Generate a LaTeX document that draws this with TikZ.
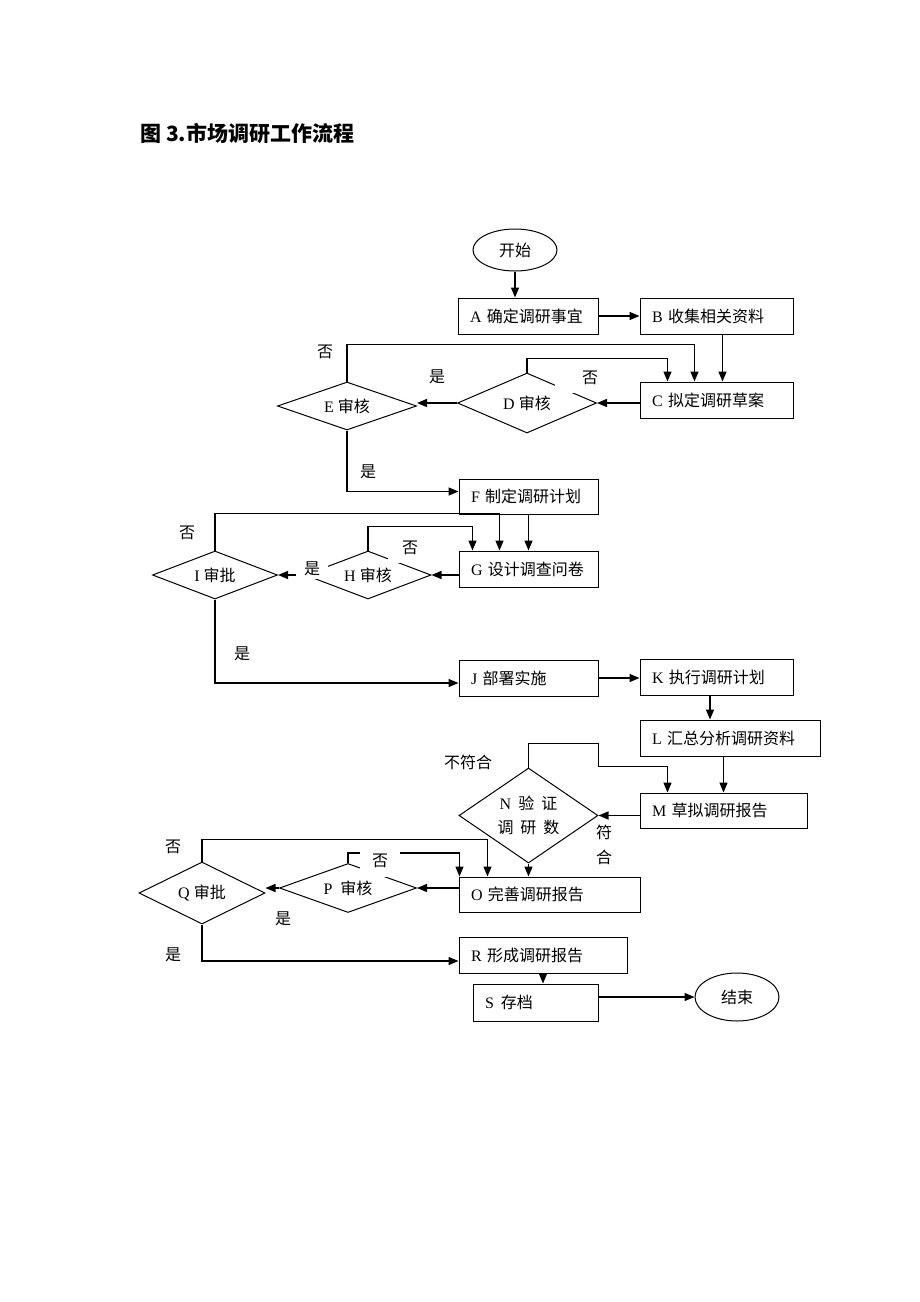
\documentclass[tikz,border=0pt]{standalone}
\usepackage{fontspec}
\setmainfont{Liberation Serif}
\newfontfamily\zhfont{Noto Sans CJK SC}
\newcommand{\zh}[1]{{\zhfont #1}}
\usetikzlibrary{shapes.geometric,arrows.meta,calc,positioning}

\begin{document}
\begin{tikzpicture}[
    x=1pt, y=-1pt,
    proc/.style ={
        rectangle,
        draw=black,
        line width=1pt,
        minimum height=36pt,
        inner xsep=12pt,
        inner ysep=0pt,
        align=left,
        text width=#1,
        font=\fontsize{16}{19}\selectfont
    },
    dec/.style ={
        diamond,
        draw=black,
        line width=1pt,
        aspect=2.5,
        inner sep=0pt,
        font=\fontsize{16}{19}\selectfont
    },
    term/.style ={
        ellipse,
        draw=black,
        line width=1pt,
        minimum width=84pt,
        minimum height=42pt,
        font=\fontsize{16}{19}\selectfont
    },
    lbl/.style ={
        inner sep=2pt,
        font=\fontsize{16}{19}\selectfont
    },
    arr/.style ={
        -{Triangle[length=10pt,width=8pt]},
        line width=1.4pt
    }
    ]

    \fill[white] (0,0) rectangle (920,1302);
    \useasboundingbox (0,0) rectangle (920,1302);

    \node[anchor=west, inner sep=0pt, font=\fontsize{21}{25}\selectfont\zhfont\bfseries] (title) at (140,133) {图 3.市场调研工作流程};

    \node[term] (start) at (515,250) {\zh{开始}};
    \node[proc=116pt] (A) at (528,316) {A \zh{确定调研事宜}};
    \node[proc=129pt] (B) at (716.5,316) {B \zh{收集相关资料}};
    \node[proc=129pt] (C) at (716.5,400) {C \zh{拟定调研草案}};
    \node[dec, minimum width=139pt, minimum height=60pt] (D) at (527,403) {D \zh{审核}};
    \node[dec, minimum width=139pt, minimum height=48pt] (E) at (347,406) {E \zh{审核}};
    \node[proc=115pt, minimum height=35pt] (F) at (528.5,496.5) {F \zh{制定调研计划}};
    \node[proc=115pt] (G) at (528.5,569) {G \zh{设计调查问卷}};
    \node[dec, minimum width=126pt, minimum height=48pt] (H) at (368,575) {H \zh{审核}};
    \node[dec, minimum width=125pt, minimum height=48pt] (I) at (215,575) {I \zh{审批}};
    \node[proc=115pt] (J) at (528.5,678) {J \zh{部署实施}};
    \node[proc=129pt] (K) at (716.5,677) {K \zh{执行调研计划}};
    \node[proc=156pt] (L) at (730,738) {L \zh{汇总分析调研资料}};
    \node[proc=143pt, minimum height=35pt] (M) at (723.5,810.5) {M \zh{草拟调研报告}};
    \node[dec, aspect=1.5, minimum width=139pt, minimum height=95pt, align=center] (N) at (528.5,815.5)
        {N\hspace{7pt}\zh{验\hspace{7pt}证}\\[5pt]\zh{调\hspace{7pt}研\hspace{7pt}数}};
    \node[proc=157pt, minimum height=35pt] (O) at (549.5,894.5) {O \zh{完善调研报告}};
    \node[dec, minimum width=137pt, minimum height=49pt] (P) at (348,888) {P\hspace{8pt}\zh{审核}};
    \node[dec, minimum width=126pt, minimum height=62pt] (Q) at (202,893) {Q \zh{审批}};
    \node[proc=144pt] (R) at (543,955) {R \zh{形成调研报告}};
    \node[proc=101pt, minimum height=37pt] (S) at (535.5,1002.5) {S\hspace{7pt}\zh{存档}};
    \node[term, minimum height=48pt] (stop) at (737,997) {\zh{结束}};

    \draw[arr] (start) -- (start |- A.north);
    \draw[arr] (A) -- (B);
    \draw[arr] ([xshift=6pt]B.south) -- ([xshift=6pt]C.north);
    \draw[arr] (C.west |- D.east) -- (D.east);
    \draw[arr] (D.north) -- ++(0,-14) -| ($(C.north west)+(28,0)$);
    \draw[arr] (E.north) -- ++(0,-37) -| ($(C.north west)+(55,0)$);
    \draw[arr] (D.west) -- (D.west -| E.east);
    \draw[arr] (E.south) |- ($(F.west)+(0,-5)$);
    \draw[arr] (F.south) -- (F.south |- G.north);
    \draw[arr] (I.north) -- ++(0,-37) -| ($(G.north west)+(41,0)$);
    \draw[arr] (H.north) -- ++(0,-24) -| ($(G.north west)+(14,0)$);
    \draw[arr] (G.west |- H.east) -- (H.east);
    \draw[arr] (H.west) -- (I.east);
    \draw[arr] (I.south) |- ($(J.west)+(0,5)$);
    \draw[arr] (J.east) -- (J.east -| K.west);
    \draw[arr] ([xshift=-6.5pt]K.south) -- ([xshift=-20pt]L.north);
    \draw[arr] ([xshift=-6.5pt]L.south) -- (M.north);
    \draw[arr] (M.west |- N.east) -- (N.east);
    \draw[arr] (N.north) -- ++(0,-24) -- ++(70,0) -- ++(0,23) -| ($(M.north west)+(28,0)$);
    \draw[arr] (N.south) -- (N.south |- O.north);
    \draw[arr] (O.west |- P.east) -- (P.east);
    \draw[arr] (P.west) -- (P.west -| Q.east);
    \draw[arr] (P.north) -- ++(0,-10) -| ($(O.north west)+(1,0)$);
    \draw[arr] (Q.north) -- ++(0,-22) -| ($(O.north west)+(29,0)$);
    \draw[arr] (Q.south) |- ($(R.west)+(0,6)$);
    \draw[arr] (R.south) -- (R.south |- S.north);
    \draw[arr] (S.east |- stop.west) -- (stop.west);

    \node[lbl] (noE) at (325,352) {\zh{否}};
    \node[lbl] (yesD) at (437,377) {\zh{是}};
    \node[lbl, fill=white, text width=41pt, align=right, minimum height=30pt] (noD) at (577.5,378) {\zh{否}};
    \node[lbl] (yesE) at (368,472) {\zh{是}};
    \node[lbl] (noI) at (187,533) {\zh{否}};
    \node[lbl, fill=white, text width=28pt, align=right, minimum height=31pt] (noH) at (404,547.5) {\zh{否}};
    \node[lbl, fill=white, inner xsep=8pt, inner ysep=3pt] (yesH) at (312,569) {\zh{是}};
    \node[lbl] (yesI) at (242,654) {\zh{是}};
    \node[lbl] (noN) at (468,762) {\zh{不符合}};
    \node[lbl, align=center] (yesN) at (604,845) {\zh{符}\\[6pt]\zh{合}};
    \node[lbl] (noQ) at (173,847) {\zh{否}};
    \node[lbl, fill=white, text width=36pt, align=center, minimum height=32pt] (noP) at (380,861) {\zh{否}};
    \node[lbl] (yesP) at (283,919) {\zh{是}};
    \node[lbl] (yesQ) at (173,955) {\zh{是}};
\end{tikzpicture}
\end{document}
